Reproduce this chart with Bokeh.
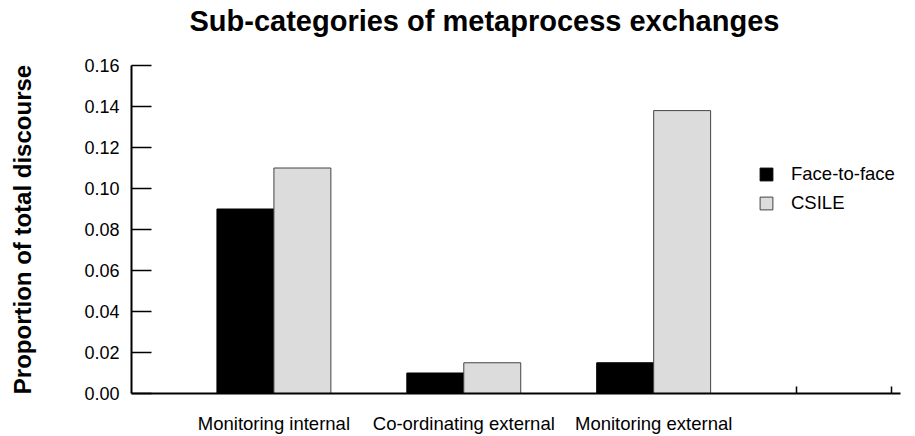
from bokeh.plotting import figure
from bokeh.models import ColumnDataSource, FixedTicker, Range1d, Legend, LegendItem
from bokeh.transform import dodge
from bokeh.embed import file_html
from bokeh.resources import INLINE

categories = ["Monitoring internal", "Co-ordinating external", "Monitoring external"]
positions = [1, 2, 3]
face_to_face = [0.09, 0.01, 0.015]
csile = [0.11, 0.015, 0.138]
y_ticks = [0.00, 0.02, 0.04, 0.06, 0.08, 0.10, 0.12, 0.14, 0.16]
y_tick_labels = ["0.00", "0.02", "0.04", "0.06", "0.08", "0.10", "0.12", "0.14", "0.16"]
x_minor = [3.75, 4.25]

FONT = "Liberation Sans"

src = ColumnDataSource(dict(x=positions, face=face_to_face, csile=csile, cat=categories))

p = figure(width=915, height=436, output_backend="svg", toolbar_location=None,
           x_range=Range1d(0.25, 4.3), y_range=Range1d(0, 0.16),
           min_border_left=131, min_border_right=15, min_border_top=65, min_border_bottom=43)
p.outline_line_color = None
p.xgrid.visible = False
p.ygrid.visible = False
p.background_fill_color = "white"
p.border_fill_color = "white"

r1 = p.vbar(x=dodge("x", -0.15, range=p.x_range), top="face", width=0.3, source=src,
            fill_color="black", line_color="black", line_width=1)
r2 = p.vbar(x=dodge("x", 0.15, range=p.x_range), top="csile", width=0.3, source=src,
            fill_color="#dcdcdc", line_color="#444444", line_width=1)

# title
p.title.text = "Sub-categories of metaprocess exchanges"
p.title.text_font = FONT
p.title.text_font_size = "29px"
p.title.text_font_style = "bold"
p.title.text_color = "black"
p.title.align = "left"
p.title.vertical_align = "top"
p.title.offset = 58
p.title.padding = (0, 0, 0, 24)
p.title.standoff = 6

# y axis
ya = p.yaxis[0]
ya.ticker = FixedTicker(ticks=y_ticks)
ya.major_label_overrides = {t: l for t, l in zip(y_ticks, y_tick_labels)}
ya.major_tick_in = 20
ya.major_tick_out = 0
ya.minor_tick_in = 0
ya.minor_tick_out = 0
ya.major_tick_line_width = 1.5
ya.axis_line_width = 2
ya.major_label_text_font = FONT
ya.major_label_text_font_size = "18px"
ya.major_label_text_color = "black"
ya.major_label_standoff = 12
ya.axis_label = "Proportion of total discourse"
ya.axis_label_text_font = FONT
ya.axis_label_text_font_size = "24px"
ya.axis_label_text_font_style = "bold"
ya.axis_label_text_color = "black"
ya.axis_label_standoff = 45

# x axis
xa = p.xaxis[0]
xa.ticker = FixedTicker(ticks=positions, minor_ticks=x_minor)
xa.major_label_overrides = {pos: c for pos, c in zip(positions, categories)}
xa.major_tick_in = 0
xa.major_tick_out = 0
xa.minor_tick_in = 7
xa.minor_tick_out = 0
xa.minor_tick_line_width = 1.5
xa.axis_line_width = 2
xa.major_label_text_font = FONT
xa.major_label_text_font_size = "18.5px"
xa.major_label_text_color = "black"
xa.major_label_standoff = 19

legend = Legend(items=[LegendItem(label="Face-to-face", renderers=[r1]),
                       LegendItem(label="CSILE", renderers=[r2])],
                location=(627, 179))
legend.border_line_color = None
legend.background_fill_alpha = 0
legend.label_text_font = FONT
legend.label_text_font_size = "18.5px"
legend.label_text_color = "black"
legend.glyph_width = 16
legend.glyph_height = 16
legend.spacing = 7
legend.label_standoff = 17
p.add_layout(legend, "center")

open("out.html", "w").write(file_html(p, INLINE))
